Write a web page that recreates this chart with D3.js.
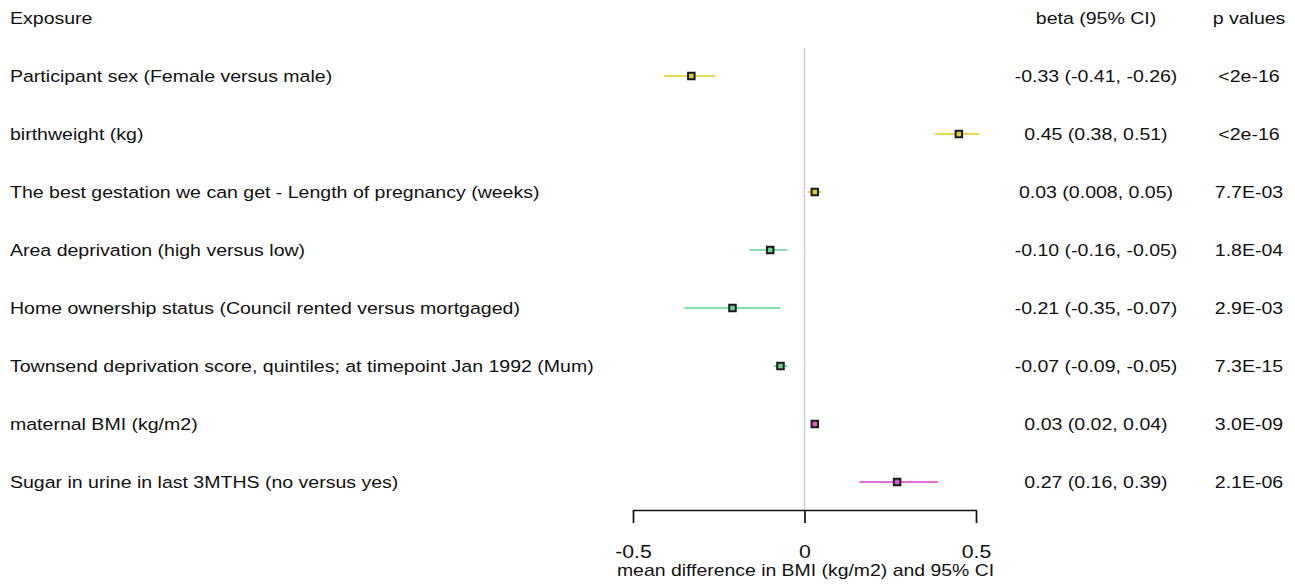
<!DOCTYPE html>
<html>
<head>
<meta charset="utf-8">
<script src="https://cdn.jsdelivr.net/npm/d3@7"></script>
<style>
  html, body { margin: 0; padding: 0; background: #ffffff; }
  svg { display: block; font-family: "Liberation Sans", Arial, sans-serif; }
</style>
</head>
<body>
<svg id="chart" width="1295" height="585"></svg>
<script>
// Exposures and their estimates (mean difference in BMI, kg/m2)
const exposures = [
  "Participant sex (Female versus male)",
  "birthweight (kg)",
  "The best gestation we can get - Length of pregnancy (weeks)",
  "Area deprivation (high versus low)",
  "Home ownership status (Council rented versus mortgaged)",
  "Townsend deprivation score, quintiles; at timepoint Jan 1992 (Mum)",
  "maternal BMI (kg/m2)",
  "Sugar in urine in last 3MTHS (no versus yes)"
];
const betas  = [-0.33, 0.45, 0.03, -0.10, -0.21, -0.07, 0.03, 0.27];
const lowers = [-0.41, 0.38, 0.008, -0.16, -0.35, -0.09, 0.02, 0.16];
const uppers = [-0.26, 0.51, 0.05, -0.05, -0.07, -0.05, 0.04, 0.39];
const betaLabels = [
  "-0.33 (-0.41, -0.26)", "0.45 (0.38, 0.51)", "0.03 (0.008, 0.05)",
  "-0.10 (-0.16, -0.05)", "-0.21 (-0.35, -0.07)", "-0.07 (-0.09, -0.05)",
  "0.03 (0.02, 0.04)", "0.27 (0.16, 0.39)"
];
const pValues = ["<2e-16", "<2e-16", "7.7E-03", "1.8E-04", "2.9E-03", "7.3E-15", "3.0E-09", "2.1E-06"];
const groups  = ["child", "child", "child", "social", "social", "social", "maternal", "maternal"];
const xTicks  = [-0.5, 0, 0.5];
const headers = { exposure: "Exposure", beta: "beta (95% CI)", p: "p values" };
const axisTitle = "mean difference in BMI (kg/m2) and 95% CI";

const svg = d3.select("#chart");

// text is drawn slightly widened horizontally
const SX = 1.17;
const place = (sel, px, py) => sel.attr("transform", `translate(${px},${py}) scale(${SX},1)`);

const lineColor = d3.scaleOrdinal()
  .domain(["child", "social", "maternal"])
  .range(["#e6da55", "#82e0aa", "#e070d8"]);
const fillColor = d3.scaleOrdinal()
  .domain(["child", "social", "maternal"])
  .range(["#ddcc3a", "#66d296", "#d45cc4"]);

const x = d3.scaleLinear().domain([-0.5, 0.5]).range([633, 976]);
const y = d3.scalePoint().domain(d3.range(exposures.length)).range([76, 482]);

const axisY = 510;
const fs = 16.7;
const betaX = 1096, pX = 1249;

// zero reference line
svg.append("line")
  .attr("x1", x(0)).attr("x2", x(0))
  .attr("y1", 48).attr("y2", axisY)
  .attr("stroke", "#d0d0d0").attr("stroke-width", 1.6);

// header row
const hdrY = 23.5;
svg.append("text").attr("font-size", fs).attr("fill", "#111")
  .call(place, 10, hdrY).text(headers.exposure);
svg.append("text").attr("font-size", fs).attr("text-anchor", "middle").attr("fill", "#111")
  .call(place, betaX, hdrY).text(headers.beta);
svg.append("text").attr("font-size", fs).attr("text-anchor", "middle").attr("fill", "#111")
  .call(place, pX, hdrY).text(headers.p);

const rows = svg.append("g").selectAll("g")
  .data(exposures.map((d, i) => ({ name: d, i })))
  .join("g");

rows.append("text")
  .attr("font-size", fs).attr("fill", "#111")
  .each(function (d) { d3.select(this).call(place, 10, y(d.i) + 5.8); })
  .text(d => d.name);

rows.append("text")
  .attr("font-size", fs).attr("text-anchor", "middle").attr("fill", "#111")
  .each(function (d) { d3.select(this).call(place, betaX, y(d.i) + 5.8); })
  .text(d => betaLabels[d.i]);

rows.append("text")
  .attr("font-size", fs).attr("text-anchor", "middle").attr("fill", "#111")
  .each(function (d) { d3.select(this).call(place, pX, y(d.i) + 5.8); })
  .text(d => pValues[d.i]);

// confidence interval lines
rows.append("line")
  .attr("x1", d => x(lowers[d.i])).attr("x2", d => x(uppers[d.i]))
  .attr("y1", d => y(d.i)).attr("y2", d => y(d.i))
  .attr("stroke", d => lineColor(groups[d.i])).attr("stroke-width", 2);

// point estimates
const sq = 6.5;
rows.append("rect")
  .attr("x", d => x(betas[d.i]) - sq / 2).attr("y", d => y(d.i) - sq / 2)
  .attr("width", sq).attr("height", sq)
  .attr("fill", d => fillColor(groups[d.i]))
  .attr("stroke", "#1a1a1a").attr("stroke-width", 2);

// x axis
const axis = svg.append("g")
  .attr("transform", `translate(0,${axisY})`)
  .call(d3.axisBottom(x).tickValues(xTicks).tickSize(13).tickSizeOuter(0)
    .tickFormat(d => d === 0 ? "0" : d3.format(".1f")(d).replace("\u2212", "-")));
axis.select(".domain").attr("stroke", "#111").attr("stroke-width", 1.7);
axis.selectAll(".tick line").attr("stroke", "#111").attr("stroke-width", 1.7);
axis.selectAll(".tick text")
  .attr("font-family", "Liberation Sans, Arial, sans-serif")
  .attr("font-size", 18.2).attr("fill", "#111")
  .attr("dy", null).attr("y", null)
  .call(place, 0, 47.5);

svg.append("text")
  .attr("text-anchor", "middle").attr("font-size", 16.6).attr("fill", "#111")
  .call(place, x(0) + 1, 576)
  .text(axisTitle);
</script>
</body>
</html>
